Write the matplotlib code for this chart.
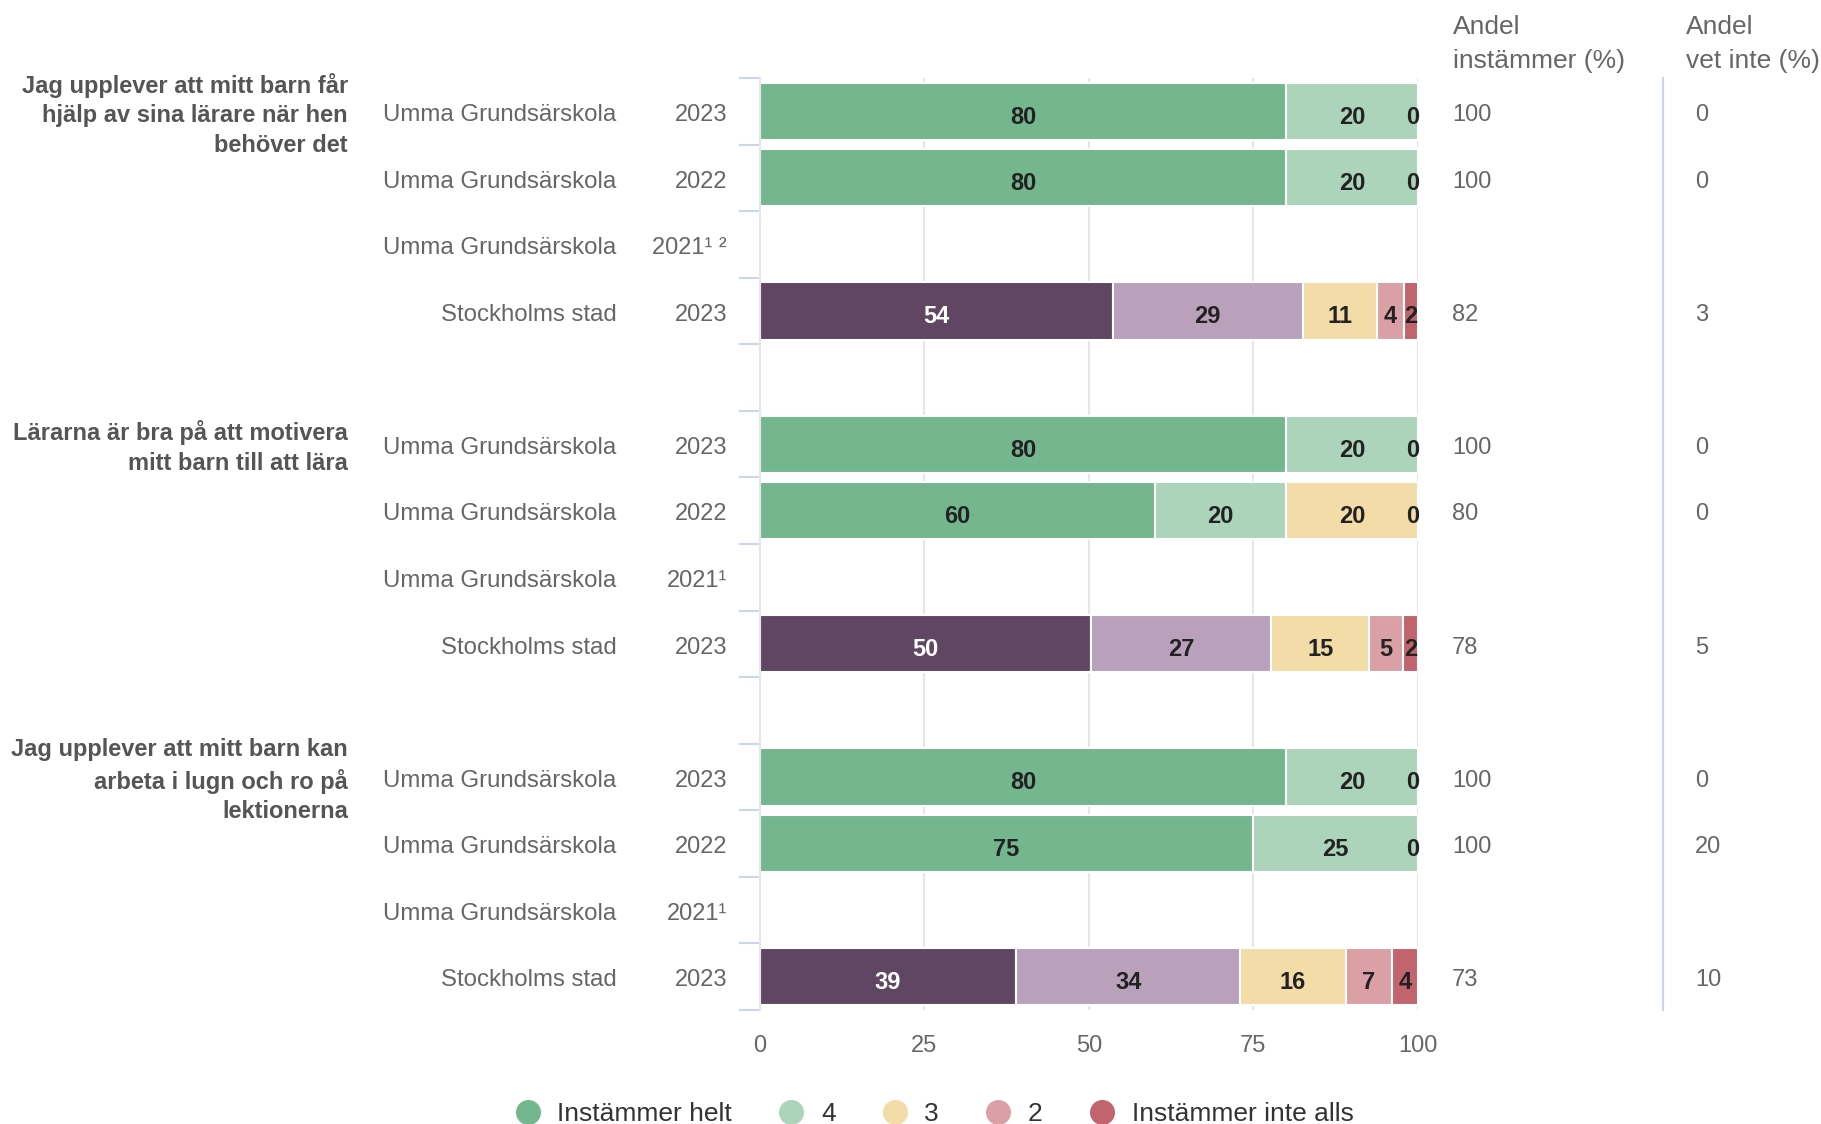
import matplotlib
matplotlib.use('Agg')
import matplotlib.pyplot as plt
from matplotlib.lines import Line2D
import matplotlib.transforms as mtransforms

plt.rcParams['font.family'] = ['Liberation Sans', 'DejaVu Sans']

# questions (one per group)
questions = ['Jag upplever att mitt barn får\nhjälp av sina lärare när hen\nbehöver det',
             'Lärarna är bra på att motivera\nmitt barn till att lära',
             'Jag upplever att mitt barn kan\narbeta i lugn och ro på\nlektionerna']

# rows inside each group
units = ['Umma Grundsärskola', 'Umma Grundsärskola', 'Umma Grundsärskola', 'Stockholms stad']
years = [['2023', '2022', '2021¹ ²', '2023'],
         ['2023', '2022', '2021¹', '2023'],
         ['2023', '2022', '2021¹', '2023']]

# share per answer: Instämmer helt, 4, 3, 2, Instämmer inte alls (None = no data)
values = [[[80, 20, 0, 0, 0], [80, 20, 0, 0, 0], None, [53.6, 28.9, 11.2, 4.2, 2.1]],
          [[80, 20, 0, 0, 0], [60, 20, 20, 0, 0], None, [50.3, 27.4, 14.9, 5.1, 2.3]],
          [[80, 20, 0, 0, 0], [75, 25, 0, 0, 0], None, [39, 34, 16, 7, 4]]]

andel_instammer = [['100', '100', '', '82'],
                   ['100', '80', '', '78'],
                   ['100', '100', '', '73']]
andel_vet_inte = [['0', '0', '', '3'],
                  ['0', '0', '', '5'],
                  ['0', '20', '', '10']]

legend_names = ['Instämmer helt', '4', '3', '2', 'Instämmer inte alls']
school_colors = ['#74b78e', '#acd4ba', '#f3dca8', '#daa0a6', '#c1646d']
stad_colors = ['#604663', '#baa1bb', '#f3dca8', '#daa0a6', '#c1646d']

gray = '#666666'
FS = 17
FS_BIG = 19
DY = 0.055  # va='center' sits a bit high, push text down

W, H = 1821, 1124
fig = plt.figure(figsize=(W / 100, H / 100), dpi=100)
ax = fig.add_axes([759.6 / W, 1 - 1010 / H, (1418 - 759.6) / W, (1010 - 78) / H])

rows_per_group = 5  # 4 rows + 1 empty row
n_rows = rows_per_group * len(questions) - 1

# figure-x / data-y transform for the text columns
tr = mtransforms.blended_transform_factory(fig.transFigure, ax.transData)

for g in range(len(questions)):
    base = g * rows_per_group
    ax.text(348 / W, base + DY, questions[g], transform=tr, ha='right', va='center',
            fontsize=FS, fontweight='bold', color='#555555', linespacing=1.38)
    for i in range(len(units)):
        y = base + i
        ax.text(616.7 / W, y + DY, units[i], transform=tr, ha='right', va='center', fontsize=17.3, color=gray)
        ax.text(727 / W, y + DY, years[g][i], transform=tr, ha='right', va='center', fontsize=FS, color=gray)
        ax.text(1452 / W, y + DY, andel_instammer[g][i], transform=tr, ha='left', va='center', fontsize=FS, color=gray)
        ax.text(1695 / W, y + DY, andel_vet_inte[g][i], transform=tr, ha='left', va='center', fontsize=FS, color=gray)

        vals = values[g][i]
        if vals is None:
            continue
        cols = stad_colors if units[i] == 'Stockholms stad' else school_colors
        left = 0
        zero_shown = False
        for k, v in enumerate(vals):
            if v > 0:
                ax.barh(y, v, left=left, height=0.86, color=cols[k], edgecolor='white', linewidth=1.5, zorder=2)
                tc = 'white' if cols[k] == '#604663' else '#222222'
                ax.text(left + v / 2, y + 0.09, f'{v:.0f}', ha='center', va='center', fontsize=FS,
                        fontweight='bold', color=tc, zorder=3)
            elif not zero_shown:
                # only the first zero label is visible, sitting on the bar end
                ax.text(left - 0.8, y + 0.09, '0', ha='center', va='center', fontsize=FS,
                        fontweight='bold', color='#222222', zorder=3)
                zero_shown = True
            left += v

ax.set_xlim(0, 100)
ax.set_ylim(n_rows - 0.5, -0.5)
ax.set_xticks([0, 25, 50, 75, 100])
ax.tick_params(axis='x', length=0, pad=18, labelsize=FS, labelcolor=gray)
ax.grid(axis='x', color='#e6e6e6', linewidth=1.5, zorder=0)
ax.set_axisbelow(True)

# category boundary ticks on the left
ax.set_yticks([r - 0.5 for r in range(n_rows + 1)])
ax.set_yticklabels([])
ax.tick_params(axis='y', length=15, width=1.5, color='#ccd6eb')
for s in ['top', 'right', 'bottom']:
    ax.spines[s].set_visible(False)
ax.spines['left'].set_color('#e6e6e6')
ax.spines['left'].set_linewidth(1.5)

# separator between the two right columns
ax.add_line(Line2D([1663 / W, 1663 / W], [0, 1], transform=mtransforms.blended_transform_factory(fig.transFigure, ax.transAxes),
                   color='#ccd6eb', linewidth=1.5, clip_on=False))

# column headers
fig.text(1453 / W, 1 - 27 / H, 'Andel', ha='left', va='center', fontsize=FS_BIG, color=gray)
fig.text(1453 / W, 1 - 61 / H, 'instämmer (%)', ha='left', va='center', fontsize=FS_BIG, color=gray)
fig.text(1686 / W, 1 - 27 / H, 'Andel', ha='left', va='center', fontsize=FS_BIG, color=gray)
fig.text(1686 / W, 1 - 61 / H, 'vet inte (%)', ha='left', va='center', fontsize=FS_BIG, color=gray)

# legend
handles = [Line2D([], [], marker='o', linestyle='none', markersize=17, color=c) for c in school_colors]
fig.legend(handles, legend_names, loc='center', bbox_to_anchor=(934 / W, 1 - 1114 / H), ncol=5,
           frameon=False, fontsize=FS_BIG, handlelength=1.0, handletextpad=0.62, columnspacing=1.75,
           labelcolor='#333333', borderpad=0)

fig.savefig('out.png', dpi=100)
